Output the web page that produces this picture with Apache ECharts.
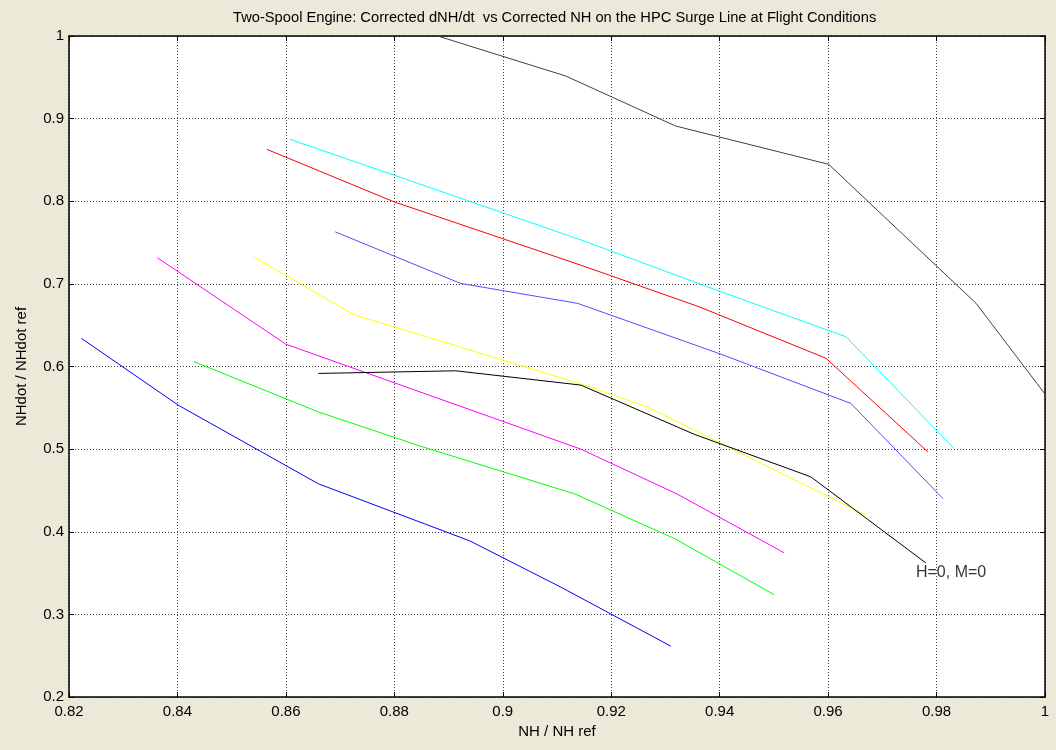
<!DOCTYPE html>
<html>
<head>
<meta charset="utf-8">
<title>Two-Spool Engine surge-line dNH/dt</title>
<script src="https://cdn.jsdelivr.net/npm/echarts@6/dist/echarts.min.js"></script>
<style>
  html, body { margin: 0; padding: 0; background: #ECE9D8; }
  #chart { width: 1056px; height: 750px; }
</style>
</head>
<body>
<div id="chart"></div>
<script>
// Tick values for both axes
const xTicks = [0.82, 0.84, 0.86, 0.88, 0.9, 0.92, 0.94, 0.96, 0.98, 1.0];
const yTicks = [0.2, 0.3, 0.4, 0.5, 0.6, 0.7, 0.8, 0.9, 1.0];

// Surge-line curves: [NH/NHref, NHdot/NHdotref] per flight condition
const curveBlue = [[0.8223, 0.634], [0.8402, 0.553], [0.866, 0.458], [0.8939, 0.389], [0.9107, 0.333], [0.931, 0.2615]];
const curveGreen = [[0.843, 0.606], [0.866, 0.545], [0.8851, 0.503], [0.9134, 0.4455], [0.9319, 0.391], [0.950, 0.324]];
const curveMagenta = [[0.8363, 0.7316], [0.860, 0.627], [0.9144, 0.500], [0.9322, 0.4455], [0.9519, 0.3745]];
const curveYellow = [[0.854, 0.733], [0.8724, 0.663], [0.9144, 0.579], [0.9267, 0.551], [0.967, 0.420]];
const curveSeaLevel = [[0.866, 0.5916], [0.8913, 0.5948], [0.9144, 0.5775], [0.9353, 0.518], [0.9568, 0.4665], [0.978, 0.3624]];
const curveSlate = [[0.8691, 0.763], [0.8922, 0.7006], [0.9138, 0.6764], [0.9402, 0.615], [0.9642, 0.5553], [0.9812, 0.440]];
const curveRed = [[0.8565, 0.8628], [0.8799, 0.7994], [0.9145, 0.7224], [0.9362, 0.6723], [0.9596, 0.610], [0.9784, 0.4967]];
const curveCyan = [[0.8607, 0.875], [0.880, 0.8315], [0.9145, 0.753], [0.940, 0.691], [0.9633, 0.636], [0.9832, 0.5008]];
const curveGray = [[0.888, 1.0], [0.9116, 0.9516], [0.9319, 0.891], [0.9601, 0.8447], [0.9873, 0.6764], [1.0, 0.5666]];

// Annotation for the sea-level static curve
const seaLevelLabel = 'H=0, M=0';
const seaLevelLabelAt = [0.9762, 0.350];

const titleText = 'Two-Spool Engine: Corrected dNH/dt  vs Corrected NH on the HPC Surge Line at Flight Conditions';
const xName = 'NH / NH ref';
const yName = 'NHdot / NHdot ref';

const curves = [
  { data: curveBlue, color: '#0000FF' },
  { data: curveGreen, color: '#00FF00' },
  { data: curveMagenta, color: '#FF00FF' },
  { data: curveYellow, color: '#FFFF00' },
  { data: curveSeaLevel, color: '#000000' },
  { data: curveSlate, color: '#5050FF' },
  { data: curveRed, color: '#FF0000' },
  { data: curveCyan, color: '#00FFFF' },
  { data: curveGray, color: '#404040' }
];

const FONT = '"Liberation Sans", Arial, sans-serif';
const fmt = v => String(parseFloat(v.toFixed(2)));

const gridLine = { show: true, lineStyle: { color: '#444', type: [1, 2], width: 1 } };
const frameLine = { show: true, onZero: false, lineStyle: { color: '#000', width: 1.5 } };
const inTick = { show: true, inside: true, length: 5, lineStyle: { color: '#000' } };

const chart = echarts.init(document.getElementById('chart'), null, { renderer: 'canvas' });

const series = curves.map(c => ({
  type: 'line',
  data: c.data,
  symbol: 'none',
  smooth: false,
  clip: true,
  lineStyle: { color: c.color, width: 1 },
  itemStyle: { color: c.color },
  silent: true,
  animation: false
}));

series.push({
  type: 'scatter',
  data: [seaLevelLabelAt],
  symbolSize: 0,
  silent: true,
  animation: false,
  label: {
    show: true,
    position: 'right',
    distance: 0,
    formatter: seaLevelLabel,
    color: '#000',
    fontFamily: FONT,
    fontSize: 16
  }
});

chart.setOption({
  backgroundColor: '#ECE9D8',
  animation: false,
  // title is centred over the plot box rather than the whole canvas
  title: {
    text: titleText,
    left: 228,
    top: 5,
    textStyle: { fontFamily: FONT, fontSize: 14.7, fontWeight: 'normal', color: '#000' }
  },
  grid: { left: 69, top: 36, right: 11, bottom: 53, show: true, backgroundColor: '#FFFFFF', borderWidth: 0 },
  xAxis: [
    {
      type: 'value', min: xTicks[0], max: xTicks[xTicks.length - 1], interval: 0.02,
      position: 'bottom',
      name: xName, nameLocation: 'middle', nameGap: 27,
      nameTextStyle: { fontFamily: FONT, fontSize: 15, color: '#000' },
      axisLine: frameLine, axisTick: inTick,
      axisLabel: { formatter: fmt, fontFamily: FONT, fontSize: 15, color: '#000', margin: 7 },
      splitLine: gridLine
    },
    {
      type: 'value', min: xTicks[0], max: xTicks[xTicks.length - 1], interval: 0.02,
      position: 'top',
      axisLine: frameLine, axisTick: inTick, axisLabel: { show: false }, splitLine: { show: false }
    }
  ],
  yAxis: [
    {
      type: 'value', min: yTicks[0], max: yTicks[yTicks.length - 1], interval: 0.1,
      position: 'left',
      name: yName, nameLocation: 'middle', nameGap: 40,
      nameTextStyle: { fontFamily: FONT, fontSize: 15, color: '#000' },
      axisLine: frameLine, axisTick: inTick,
      axisLabel: { formatter: fmt, fontFamily: FONT, fontSize: 15, color: '#000', margin: 5 },
      splitLine: gridLine
    },
    {
      type: 'value', min: yTicks[0], max: yTicks[yTicks.length - 1], interval: 0.1,
      position: 'right',
      axisLine: frameLine, axisTick: inTick, axisLabel: { show: false }, splitLine: { show: false }
    }
  ],
  series: series
});
</script>
</body>
</html>
